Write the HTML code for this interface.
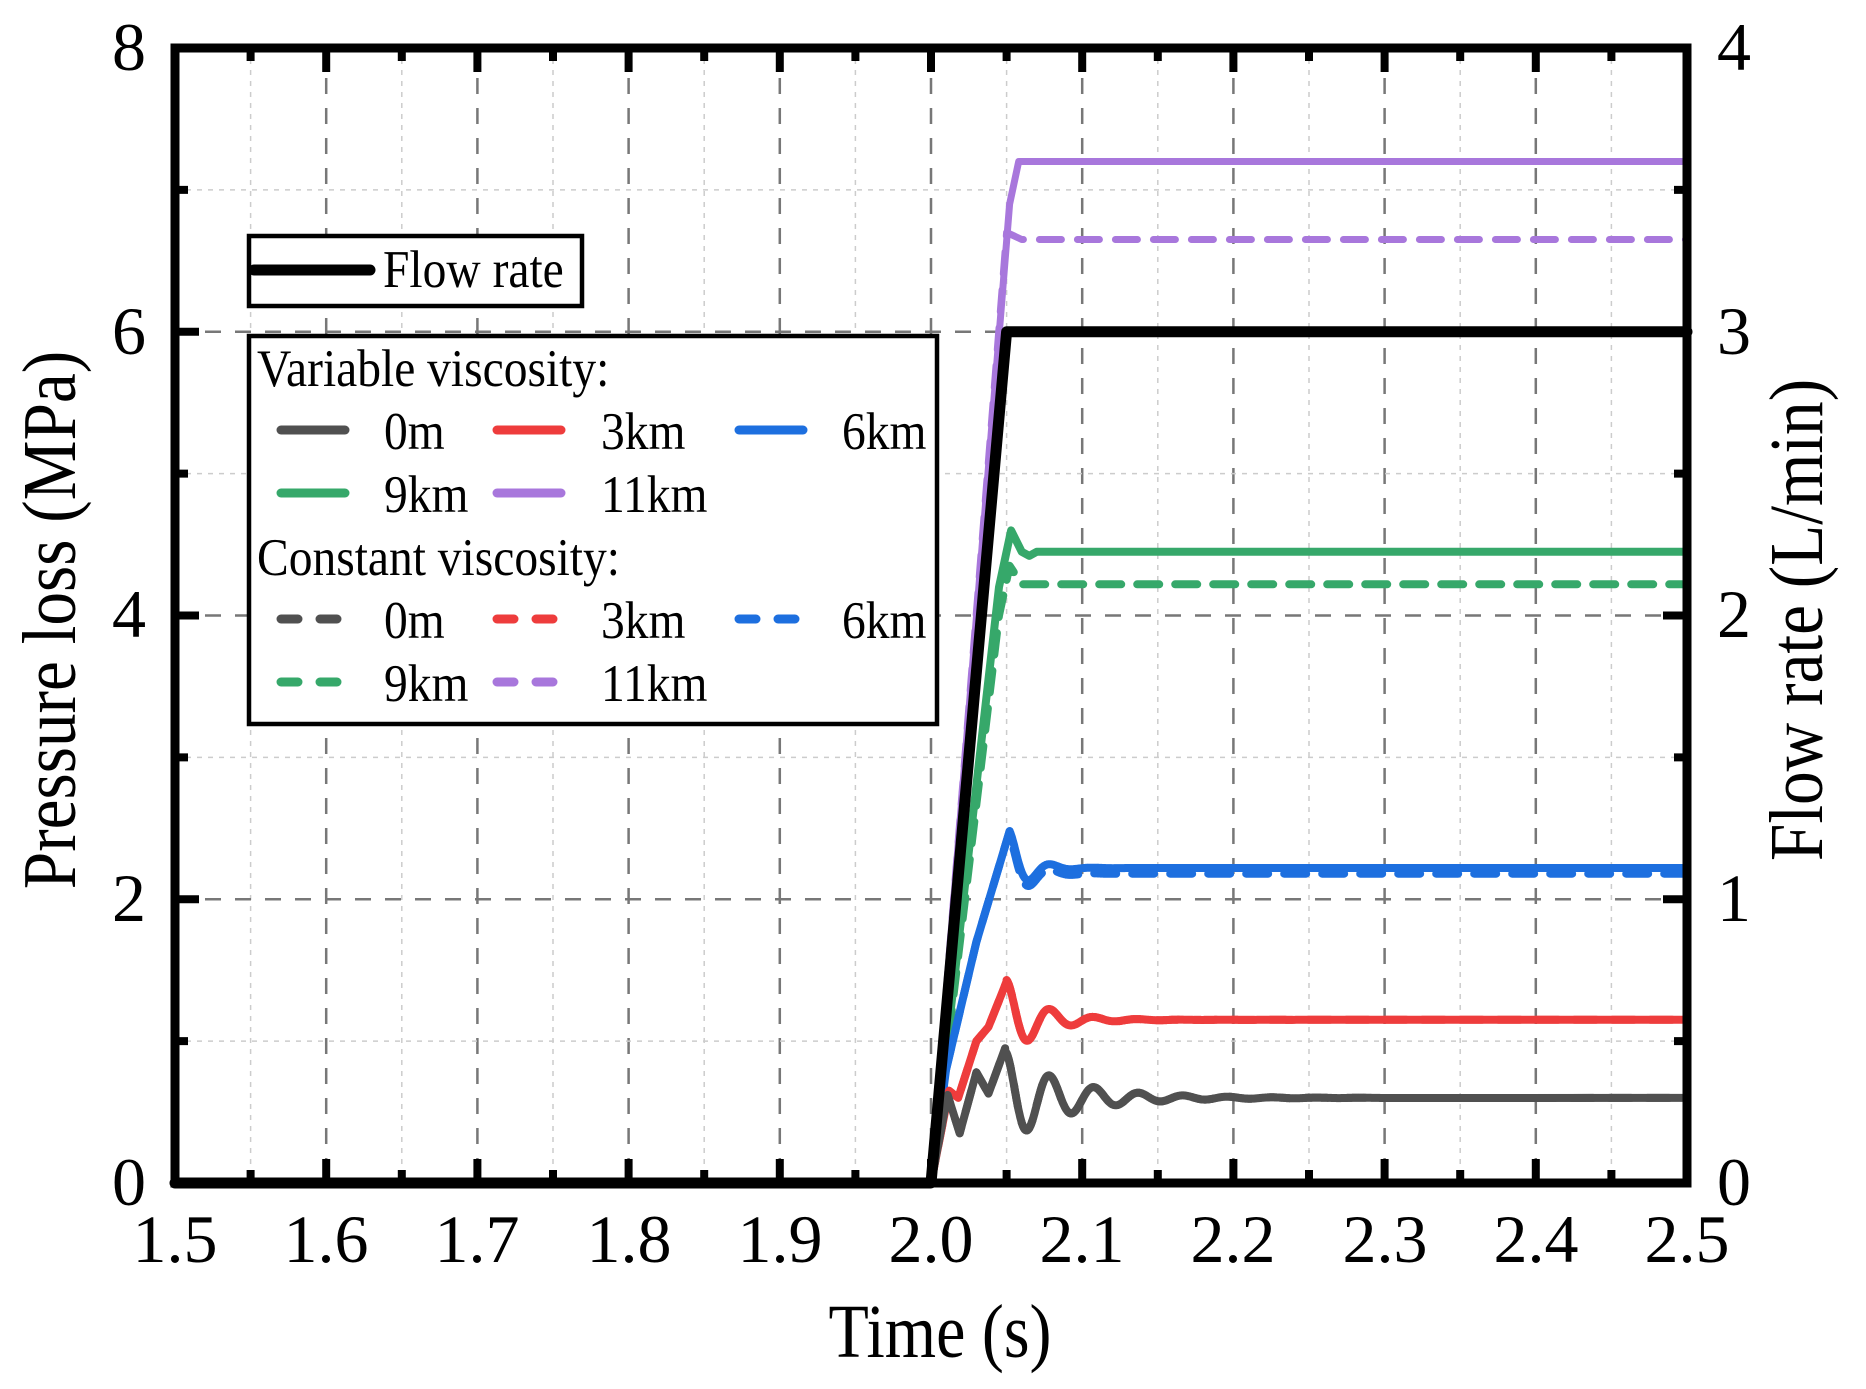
<!DOCTYPE html>
<html><head><meta charset="utf-8"><style>
html,body{margin:0;padding:0;background:#fff;}
svg{display:block;font-family:"Liberation Serif","Times New Roman",serif;}
</style></head><body>
<svg id="s" width="1866" height="1389" viewBox="0 0 1866 1389" xmlns="http://www.w3.org/2000/svg">
<rect width="1866" height="1389" fill="#fff"/>
<g id="grid"></g>
<g id="data" fill="none" stroke-linejoin="round" stroke-linecap="round"></g>
<g id="frame"></g>
<g font-size="68" fill="#000" text-anchor="middle">
<text x="175" y="1262">1.5</text><text x="326" y="1262">1.6</text><text x="477" y="1262">1.7</text><text x="629" y="1262">1.8</text><text x="780" y="1262">1.9</text><text x="931" y="1262">2.0</text><text x="1082" y="1262">2.1</text><text x="1233" y="1262">2.2</text><text x="1385" y="1262">2.3</text><text x="1536" y="1262">2.4</text><text x="1687" y="1262">2.5</text>
<text x="129" y="1205">0</text><text x="129" y="921">2</text><text x="129" y="637">4</text><text x="129" y="354">6</text><text x="129" y="70">8</text>
<text x="1734" y="1205">0</text><text x="1734" y="921">1</text><text x="1734" y="637">2</text><text x="1734" y="354">3</text><text x="1734" y="70">4</text>
</g>
<g font-size="66" fill="#000" text-anchor="middle">
<text transform="translate(940,1357) scale(1.0,1.15)">Time (s)</text>
<text transform="translate(75,620) rotate(-90) scale(1.02,1.15)">Pressure loss (MPa)</text>
<text transform="translate(1822,620) rotate(-90) scale(1.02,1.15)">Flow rate (L/min)</text>
</g>
<g id="leg"></g>
</svg>
<script>
const X=t=>175+(t-1.5)*1512, Y=p=>1183-p*141.875, YQ=q=>1183-q*283.75;
const ns="http://www.w3.org/2000/svg";
function el(g,tag,a,txt){const e=document.createElementNS(ns,tag);for(const k in a)e.setAttribute(k,a[k]);if(txt)e.textContent=txt;document.getElementById(g).appendChild(e);return e;}
function lt(x,y,s){el("leg","text",{transform:`translate(${x},${y}) scale(1.08,1.2)`,"font-size":44},s);}
for(let i=0;i<=20;i++){const t=1.5+i*0.05,x=X(t);if(i==0||i==20)continue;
 if(i%2==0) el("grid","line",{x1:x,y1:48,x2:x,y2:1183,stroke:"#777","stroke-width":2.5,"stroke-dasharray":"16 14"});
 else el("grid","line",{x1:x,y1:48,x2:x,y2:1183,stroke:"#ccc","stroke-width":1.5,"stroke-dasharray":"5 6"});}
for(let p=1;p<8;p++){const y=Y(p);
 if(p%2==0) el("grid","line",{x1:175,y1:y,x2:1687,y2:y,stroke:"#777","stroke-width":2.5,"stroke-dasharray":"16 14"});
 else el("grid","line",{x1:175,y1:y,x2:1687,y2:y,stroke:"#ccc","stroke-width":1.5,"stroke-dasharray":"5 6"});}
el("frame","rect",{x:175,y:48,width:1512,height:1135,fill:"none",stroke:"#000","stroke-width":9});
for(let i=1;i<20;i++){const x=X(1.5+i*0.05),L=i%2==0?24:13;
 el("frame","line",{x1:x,y1:1183,x2:x,y2:1183-L,stroke:"#000","stroke-width":8});
 el("frame","line",{x1:x,y1:48,x2:x,y2:48+L,stroke:"#000","stroke-width":8});}
for(let p=1;p<8;p++){const y=Y(p),L=p%2==0?24:13;
 el("frame","line",{x1:175,y1:y,x2:175+L,y2:y,stroke:"#000","stroke-width":8});
 el("frame","line",{x1:1687,y1:y,x2:1687-L,y2:y,stroke:"#000","stroke-width":8});}
function path(pts){return "M"+pts.map(p=>p[0].toFixed(1)+","+p[1].toFixed(1)).join("L");}
function osc(settle,amp,period,tau,phase,t0,t1){const pts=[];
 for(let t=t0;t<=t1;t+=0.0005){const d=t-t0;let v=settle+amp*Math.exp(-d/tau)*Math.cos(2*Math.PI*d/period+phase);pts.push([X(t),Y(v)]);}
 pts.push([X(2.5),Y(settle)]);return pts;}
function line(pts,col,w,dash){const a={d:path(pts),stroke:col,"stroke-width":w};if(dash)a["stroke-dasharray"]=dash;el("data","path",a);}
const GR="#505050",RD="#ee3c3c",BL="#1d6fdf",GN="#36a86a",PU="#a877dc";
line([[X(2.0),Y(0)],[X(2.052),Y(6.9)],[X(2.058),Y(7.2)],[X(2.07),Y(7.2)],[X(2.5),Y(7.2)]],PU,7);
line([[X(2.0),Y(0)],[X(2.047),Y(6.3)],[X(2.05),Y(6.7)],[X(2.06),Y(6.65)],[X(2.5),Y(6.65)]],PU,7,"22 16");
line([[X(2.0),Y(0)],[X(2.045),Y(4.2)],[X(2.053),Y(4.6)],[X(2.06),Y(4.45)],[X(2.065),Y(4.42)],[X(2.07),Y(4.45)],[X(2.5),Y(4.45)]],GN,8);
line([[X(2.0),Y(0)],[X(2.045),Y(4.0)],[X(2.052),Y(4.35)],[X(2.06),Y(4.22)],[X(2.5),Y(4.22)]],GN,8,"22 16");
(function(){const a=[[X(2.0),Y(0)],[X(2.01),Y(0.8)],[X(2.03),Y(1.7)],[X(2.052),Y(2.48)]];
 const b=osc(2.22,0.26,0.028,0.012,0,2.052,2.2);line(a.concat(b),BL,8);
 const c=osc(2.18,0.26,0.028,0.012,0,2.052,2.2);line(a.concat(c),BL,8,"22 16");})();
(function(){const a=[[X(2.0),Y(0)],[X(2.012),Y(0.65)],[X(2.018),Y(0.6)],[X(2.03),Y(1.0)],[X(2.038),Y(1.1)],[X(2.05),Y(1.42)]];
 const b=osc(1.15,0.28,0.029,0.022,0,2.05,2.3);line(a.concat(b),RD,8,"22 16");line(a.concat(b),RD,8);})();
(function(){const a=[[X(2.0),Y(0)],[X(2.011),Y(0.62)],[X(2.019),Y(0.35)],[X(2.03),Y(0.78)],[X(2.038),Y(0.63)],[X(2.049),Y(0.95)]];
 const b=osc(0.6,0.33,0.0295,0.04,0,2.049,2.3);line(a.concat(b),GR,8,"22 16");line(a.concat(b),GR,8);})();
line([[X(1.5),YQ(0)],[X(2.0),YQ(0)],[X(2.05),YQ(3)],[X(2.5),YQ(3)]],"#000",11);
el("leg","rect",{x:249,y:236,width:333,height:70,fill:"#fff",stroke:"#000","stroke-width":4.5});
el("leg","line",{x1:254,y1:270,x2:370,y2:270,stroke:"#000","stroke-width":11,"stroke-linecap":"round"});
lt(383,287,"Flow rate");
el("leg","rect",{x:249,y:336,width:688,height:388,fill:"#fff",stroke:"#000","stroke-width":4.5});
lt(257,386,"Variable viscosity:");
lt(257,575,"Constant viscosity:");
const rows=[[430,449,[[GR,"0m"],[RD,"3km"],[BL,"6km"]]],[493,512,[[GN,"9km"],[PU,"11km"]]]];
const cols=[[281,345,384],[497,561,601],[739,803,842]];
function rowsDraw(off,dash){rows.forEach(r=>r[2].forEach((it,i)=>{const c=cols[i];
 const a={x1:c[0],y1:r[0]+off,x2:c[1],y2:r[0]+off,stroke:it[0],"stroke-width":9,"stroke-linecap":"round"};
 if(dash)a["stroke-dasharray"]="17 22";
 el("leg","line",a);lt(c[2],r[1]+off,it[1]);}));}
rowsDraw(0,false);rowsDraw(189,true);
</script>
</body></html>
